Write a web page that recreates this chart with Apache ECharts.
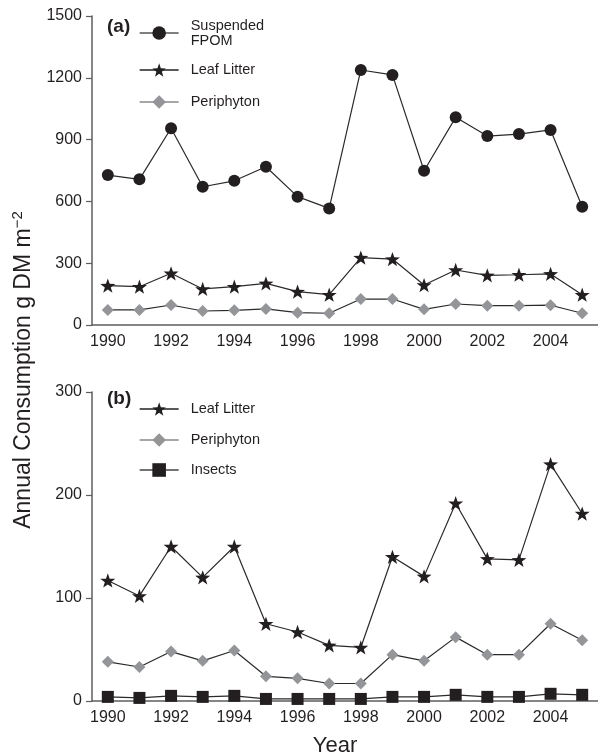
<!DOCTYPE html>
<html>
<head>
<meta charset="utf-8">
<script src="https://cdn.jsdelivr.net/npm/echarts@6/dist/echarts.min.js"></script>
<style>
html,body{margin:0;padding:0;background:#fff;}
#chart{width:598px;height:755px;}
</style>
</head>
<body>
<div id="chart"></div>
<script>
// ---- data ----
var years = ['1990','1991','1992','1993','1994','1995','1996','1997','1998','1999','2000','2001','2002','2003','2004','2005'];
// panel (a)
var fpomA = [728, 707, 955, 671, 700, 768, 623, 566, 1238, 1214, 749, 1008, 917, 927, 947, 574];
var leafA = [191, 186, 251, 175, 186, 202, 162, 147, 327, 320, 194, 267, 241, 244, 248, 147];
var periA = [73, 73, 97, 68, 71, 78, 60, 57, 126, 126, 76, 102, 94, 94, 96, 57];
// panel (b)
var leafB = [117, 102, 150, 120, 150, 75, 67, 54, 52, 140, 121, 192, 138, 137, 230, 182];
var periB = [38, 33, 48, 39, 49, 24, 22, 17, 17, 45, 39, 62, 45, 45, 75, 59];
var insectsB = [4, 3, 5, 4, 5, 2, 2, 2, 2, 4, 4, 6, 4, 4, 7, 6];
var yTicksA = [0, 300, 600, 900, 1200, 1500];
var yTicksB = [0, 100, 200, 300];

var FONT = '"Liberation Sans", Arial, Helvetica, sans-serif';
var INK = '#231f20';
var AXIS = '#5e5e5e';
var GRAY = '#939598';
var STAR = 'path://M100 0 L123.5 67.6 L195.1 69.1 L138 112.4 L158.8 180.9 L100 140 L41.2 180.9 L62 112.4 L4.9 69.1 L76.5 67.6 Z';

function xAxis(gi) {
  return {
    type: 'category', gridIndex: gi, data: years, boundaryGap: true,
    axisLine: {lineStyle: {color: AXIS, width: 1.5}},
    axisTick: {alignWithLabel: true, interval: 0, length: 6, lineStyle: {color: AXIS, width: 1.2}},
    axisLabel: {interval: 1, margin: 9, color: INK, fontSize: 16, fontFamily: FONT},
    splitLine: {show: false}
  };
}
function yAxis(gi, ticks) {
  return {
    type: 'value', gridIndex: gi, min: ticks[0], max: ticks[ticks.length - 1],
    interval: ticks[1] - ticks[0],
    axisLine: {show: true, lineStyle: {color: AXIS, width: 1.5}},
    axisTick: {show: true, length: 6, lineStyle: {color: AXIS, width: 1.2}},
    axisLabel: {margin: 10, color: INK, fontSize: 16, fontFamily: FONT,
                formatter: function (v) { return String(v); }},
    splitLine: {show: false}
  };
}
function series(name, data, gi, symbol, size, color) {
  return {
    name: name, type: 'line', xAxisIndex: gi, yAxisIndex: gi, data: data,
    symbol: symbol, symbolSize: size, symbolKeepAspect: true,
    lineStyle: {color: '#2a2a2a', width: 1.2},
    itemStyle: {color: color},
    emphasis: {disabled: true}, animation: false
  };
}
function legendItem(name, top, lineColor, label) {
  return {
    data: [name], left: 139, top: top, padding: 0, orient: 'vertical',
    itemWidth: 39, itemHeight: 17, selectedMode: false,
    lineStyle: {color: lineColor, width: 1.3},
    formatter: function () { return label; },
    textStyle: {color: INK, fontSize: 14.5, fontFamily: FONT, lineHeight: 15, padding: [0, 0, 0, 7]}
  };
}

var chart = echarts.init(document.getElementById('chart'), null, {renderer: 'canvas'});
chart.setOption({
  backgroundColor: '#fff',
  animation: false,
  grid: [
    {left: 92, right: -3, top: 16, height: 309},
    {left: 92, right: -3, top: 392, height: 309}
  ],
  xAxis: [xAxis(0), xAxis(1)],
  yAxis: [yAxis(0, yTicksA), yAxis(1, yTicksB)],
  legend: [
    legendItem('Suspended\nFPOM', 18, '#555', 'Suspended\nFPOM'),
    legendItem('Leaf Litter', 71 - 8.5, '#222', 'Leaf Litter'),
    legendItem('Periphyton', 103 - 8.5, '#888', 'Periphyton'),
    legendItem('Leaf Litter ', 410 - 8.5, '#222', 'Leaf Litter'),
    legendItem('Periphyton ', 441 - 8.5, '#888', 'Periphyton'),
    legendItem('Insects', 471 - 8.5, '#444', 'Insects')
  ],
  series: [
    series('Suspended\nFPOM', fpomA, 0, 'circle', 12, INK),
    series('Leaf Litter', leafA, 0, STAR, 15, INK),
    series('Periphyton', periA, 0, 'diamond', 12, GRAY),
    series('Leaf Litter ', leafB, 1, STAR, 15, INK),
    series('Periphyton ', periB, 1, 'diamond', 12, GRAY),
    series('Insects', insectsB, 1, 'rect', 12, INK)
  ],
  graphic: [
    {type: 'text', left: 107, top: 17, style: {text: '(a)', font: 'bold 19px ' + FONT, fill: INK}},
    {type: 'text', left: 107, top: 389, style: {text: '(b)', font: 'bold 19px ' + FONT, fill: INK}},
    {type: 'text', x: 335, y: 746, style: {text: 'Year', font: '22px ' + FONT, fill: INK, align: 'center', verticalAlign: 'middle'}},
    {type: 'text', x: 24, y: 370, rotation: Math.PI / 2,
     style: {
       text: '{n|Annual Consumption g DM m}{s|−2}',
       align: 'center', verticalAlign: 'middle',
       rich: {
         n: {fontSize: 23, fontFamily: FONT, fill: INK, color: INK, lineHeight: 28},
         s: {fontSize: 15, fontFamily: FONT, fill: INK, color: INK, verticalAlign: 'top', lineHeight: 18}
       }
     }}
  ]
});
</script>
</body>
</html>
